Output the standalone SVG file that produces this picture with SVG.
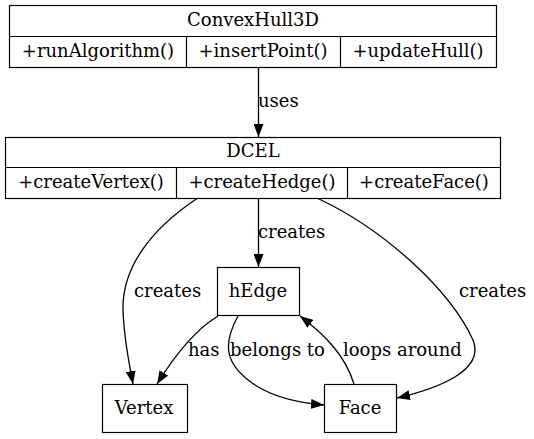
<svg xmlns="http://www.w3.org/2000/svg" width="534" height="439" viewBox="0 0 534 439">
<style>
text{font-family:"DejaVu Serif","Liberation Serif",serif;font-size:18px;fill:#000}
.box{fill:none;stroke:#000;stroke-width:1.2}
.edge{fill:none;stroke:#000;stroke-width:1.3}
.c{text-anchor:middle}
</style>
<defs>
<marker id="ah" viewBox="0 0 13 10" refX="13" refY="5" markerWidth="13" markerHeight="10" markerUnits="userSpaceOnUse" orient="auto">
<path d="M0,0 L13,5 L0,10 Z" fill="#000"/>
</marker>
</defs>
<rect width="534" height="439" fill="#fff"/>
<g id="ConvexHull3D">
<rect class="box" x="9.5" y="5.5" width="487" height="62"/>
<line class="box" x1="9.5" y1="36.5" x2="496.5" y2="36.5"/>
<line class="box" x1="186.5" y1="36.5" x2="186.5" y2="67.5"/>
<line class="box" x1="340.5" y1="36.5" x2="340.5" y2="67.5"/>
<text class="c" x="253" y="26">ConvexHull3D</text>
<text class="c" x="98" y="57">+runAlgorithm()</text>
<text class="c" x="263" y="57">+insertPoint()</text>
<text class="c" x="418" y="57">+updateHull()</text>
</g>
<g id="DCEL">
<rect class="box" x="5.5" y="137.5" width="495" height="61"/>
<line class="box" x1="5.5" y1="167.5" x2="500.5" y2="167.5"/>
<line class="box" x1="176.5" y1="167.5" x2="176.5" y2="198.5"/>
<line class="box" x1="347.5" y1="167.5" x2="347.5" y2="198.5"/>
<text class="c" x="253" y="157">DCEL</text>
<text class="c" x="91" y="188">+createVertex()</text>
<text class="c" x="262" y="188">+createHedge()</text>
<text class="c" x="424" y="188">+createFace()</text>
</g>
<g id="hEdge">
<rect class="box" x="217.5" y="267.5" width="82" height="48"/>
<text class="c" x="258" y="297">hEdge</text>
</g>
<g id="Vertex">
<rect class="box" x="102.5" y="384.5" width="85" height="48"/>
<text class="c" x="144" y="414">Vertex</text>
</g>
<g id="Face">
<rect class="box" x="324.5" y="384.5" width="72" height="48"/>
<text class="c" x="360" y="414">Face</text>
</g>
<g id="connectors">
<path class="edge" d="M258.5,67.5 L258.5,137" marker-end="url(#ah)"/>
<text x="258" y="107">uses</text>
<path class="edge" d="M258.5,198.5 L258.5,267" marker-end="url(#ah)"/>
<text x="258" y="238">creates</text>
<path class="edge" d="M197,198.5 C150,230 122,268 123,310 C124,340 129,362 133,384" marker-end="url(#ah)"/>
<text x="134" y="297">creates</text>
<path class="edge" d="M318,198.5 C385,230 450,290 473,340 C485,370 440,388 397,398" marker-end="url(#ah)"/>
<text x="459" y="297">creates</text>
<path class="edge" d="M218,316 C195,330 175,355 157,384" marker-end="url(#ah)"/>
<text x="188" y="356">has</text>
<path class="edge" d="M238,316 C222,345 225,365 255,385 C275,398 300,403 324,405" marker-end="url(#ah)"/>
<text x="230" y="356">belongs to</text>
<path class="edge" d="M354,384 C345,355 325,335 300,316" marker-end="url(#ah)"/>
<text x="343" y="356">loops around</text>
</g>
</svg>
